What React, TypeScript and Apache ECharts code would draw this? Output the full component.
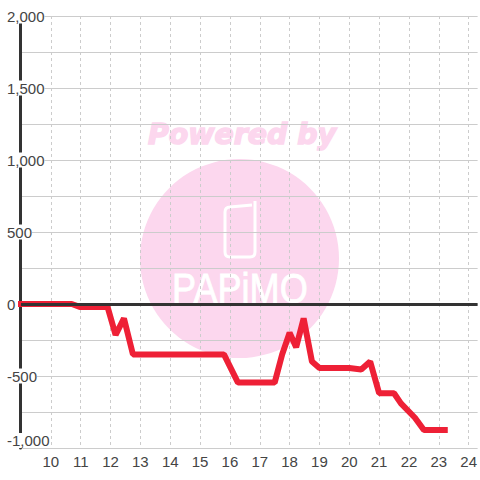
import React, { useEffect, useRef } from "react";
import * as echarts from "echarts";

const hours = [8.87, 10.7, 10.97, 11.9, 12.17, 12.45, 12.75, 15.8, 16.27, 17.5, 17.75, 18, 18.22, 18.47, 18.75, 19, 20, 20.4, 20.7, 21, 21.5, 21.73, 22.2, 22.5, 23.3];
const pnl = [0, 0, -20, -20, -215, -100, -350, -350, -546, -546, -350, -200, -300, -100, -400, -445, -445, -455, -400, -620, -620, -690, -790, -875, -875];
const phonePath = "M255 201 L255 252 Q255 257 250 257 L230 257 Q225 257 225 252 L225 212 Q225 207 230 207 L252 205";

echarts.graphic.registerShape("phone", echarts.graphic.extendPath(phonePath, {}));

export default function App() {
  const ref = useRef<HTMLDivElement>(null);
  useEffect(() => {
    const chart = echarts.init(ref.current!, null, { renderer: "svg" });
    const pink = "#fcd7ee";
    chart.setOption({
      animation: false,
      backgroundColor: "#fff",
      textStyle: { fontFamily: "Liberation Sans" },
      grid: { left: 21, right: 0, top: 16, height: 432 },
      graphic: [
        { type: "text", z: -1, x: 148, y: 120, style: { text: "Powered by", fontFamily: "DejaVu Sans", fontWeight: "bold", fontStyle: "italic", fontSize: 28.4, fill: pink, stroke: pink, lineWidth: 1.5 } },
        { type: "circle", z: -2, shape: { cx: 239.5, cy: 258.5, r: 99.5 }, style: { fill: pink } },
        { type: "phone", z: -1, x: 0, y: 0, style: { fill: "none", stroke: "#fff", lineWidth: 3 } },
        { type: "text", z: -1, x: 172, y: 268, scaleX: 0.86, style: { text: "PAPiMO", fontFamily: "Liberation Sans", fontSize: 42, fill: "#fff", stroke: "#fff", lineWidth: 0.8 } },
      ],
      xAxis: {
        type: "value",
        min: 9,
        max: 24.3,
        interval: 1,
        axisLine: { show: false, onZero: false },
        axisTick: { show: false },
        axisLabel: { color: "#444", fontSize: 15, margin: 6, showMinLabel: false, showMaxLabel: false, formatter: (v: number) => String(v) },
        splitLine: { show: true, showMinLine: false, showMaxLine: false, lineStyle: { color: "#ccc", width: 1, type: [3, 3] } },
      },
      yAxis: {
        type: "value",
        min: -1000,
        max: 2000,
        interval: 500,
        offset: 0.5,
        axisLine: { show: true, onZero: false, lineStyle: { color: "#333", width: 3 } },
        axisTick: { show: false },
        axisLabel: {
          color: "#444",
          fontSize: 15,
          margin: 13.5,
          align: "left",
          backgroundColor: "#fff",
          verticalAlignMinLabel: "bottom",
          formatter: (v: number) => v.toLocaleString("en-US"),
        },
        splitLine: { show: true, lineStyle: { color: "#ccc", width: 1 } },
        minorTick: { show: false, splitNumber: 2 },
        minorSplitLine: { show: true, lineStyle: { color: "#ccc", width: 1 } },
      },
      series: [
        {
          type: "line",
          z: 1,
          silent: true,
          data: [],
          markLine: {
            silent: true,
            symbol: "none",
            label: { show: false },
            lineStyle: { color: "#333", width: 3, type: "solid" },
            data: [{ yAxis: 0 }],
          },
        },
        {
          type: "line",
          z: 3,
          clip: false,
          symbol: "none",
          silent: true,
          data: hours.map((h, i) => [h, pnl[i]]),
          lineStyle: { color: "#ee2036", width: 6, join: "bevel", cap: "butt" },
        },
      ],
    });
    return () => chart.dispose();
  }, []);
  return <div ref={ref} style={{ position: "absolute", left: 0, top: 0, width: 480, height: 480 }} />;
}
